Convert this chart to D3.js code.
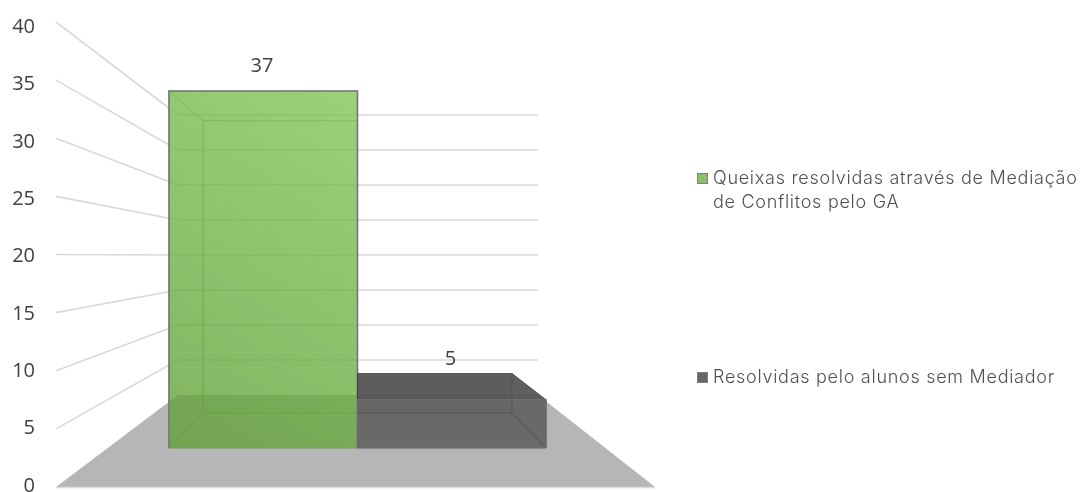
<!DOCTYPE html>
<html><head><meta charset="utf-8">
<script src="https://cdn.jsdelivr.net/npm/d3@7/dist/d3.min.js"></script>
<style>html,body{margin:0;padding:0;background:#fff}svg{display:block}</style>
</head><body><svg id="c" width="1082" height="492"></svg>
<script>
const categories = ["Queixas resolvidas através de Mediação de Conflitos pelo GA", "Resolvidas pelo alunos sem Mediador"];
const legendLines = [["Queixas resolvidas através de Mediação", "de Conflitos pelo GA"], ["Resolvidas pelo alunos sem Mediador"]];
const values = [37, 5];
const tickValues = [0, 5, 10, 15, 20, 25, 30, 35, 40];
const barColors = ["url(#gGreen)", "#555555"];

const svg = d3.select("#c");
const defs = svg.append("defs");
const grad = defs.append("linearGradient").attr("id", "gGreen")
  .attr("gradientUnits", "userSpaceOnUse").attr("x1", 169).attr("y1", 448).attr("x2", 400).attr("y2", 91);
grad.append("stop").attr("offset", 0).attr("stop-color", "#5f9f35");
grad.append("stop").attr("offset", 1).attr("stop-color", "#80c655");
defs.append("filter").attr("id", "soft").attr("x", "-5%").attr("y", "-5%").attr("width", "110%").attr("height", "110%")
  .append("feGaussianBlur").attr("stdDeviation", 0.45);

// perspective planes
const yOuter = d3.scaleLinear().domain([0, 40]).range([487, 22]);
const yWall = d3.scaleLinear().domain([0, 40]).range([395, 115]);
const yFront = d3.scaleLinear().domain([0, 40]).range([448, 62]);
const yBack = d3.scaleLinear().domain([0, 40]).range([413, 97]);
const yLabel = d3.scaleLinear().domain([0, 40]).range([491.5, 33]);
const xFront = d3.scaleBand().domain(categories).range([169, 546]);
const xBack = d3.scaleBand().domain(categories).range([203, 512]);
const outerL = 56, outerR = 655, wallL = 178, wallR = 538;

const marks = svg.append("g").attr("filter", "url(#soft)");
const poly = d3.line();

// floor
marks.append("path")
  .attr("d", poly([[outerL, yOuter(0)], [wallL, yWall(0)], [wallR, yWall(0)], [outerR, yOuter(0)]]) + "Z")
  .attr("fill", "#b6b6b6");
marks.append("line").attr("x1", outerL).attr("x2", outerR).attr("y1", yOuter(0)+0.5).attr("y2", yOuter(0)+0.5)
  .attr("stroke", "#dcdcdc").attr("stroke-width", 1.5);

// gridlines: side wall then back wall
const grid = tickValues.filter(d => d > 0);
marks.selectAll(".side").data(grid).join("line")
  .attr("x1", outerL).attr("y1", d => yOuter(d)).attr("x2", wallL).attr("y2", d => yWall(d))
  .attr("stroke", "#d9d9d9").attr("stroke-width", 1.6);
marks.selectAll(".wall").data(grid).join("line")
  .attr("x1", wallL).attr("x2", wallR).attr("y1", d => yWall(d)).attr("y2", d => yWall(d))
  .attr("stroke", "#d9d9d9").attr("stroke-width", 1.6);

// bars: translucent box faces
categories.forEach((c, i) => {
  const v = values[i], fl = xFront(c), fr = fl + xFront.bandwidth(), bl = xBack(c), br = bl + xBack.bandwidth();
  const yf0 = yFront(0), yf = yFront(v), yb0 = yBack(0), yb = yBack(v);
  const g = marks.append("g");
  const green = i === 0;
  const face = (pts, op, stroke) => g.append("path").attr("d", poly(pts) + "Z")
    .attr("fill", barColors[i]).attr("fill-opacity", op)
    .attr("stroke", stroke || "none").attr("stroke-width", 1).attr("stroke-opacity", 0.45);
  const edge = green ? "#5f9440" : "#3c3c3c";
  face([[bl, yb], [br, yb], [br, yb0], [bl, yb0]], green ? 0 : 0.5, edge);        // back
  face([[fl, yf0], [fr, yf0], [br, yb0], [bl, yb0]], green ? 0 : 0.4, edge);      // bottom
  face([[fl, yf], [bl, yb], [bl, yb0], [fl, yf0]], green ? 0 : 0.4, edge);        // left
  face([[fr, yf], [br, yb], [br, yb0], [fr, yf0]], green ? 0 : 0.4, edge);        // right
  face([[fl, yf], [fr, yf], [br, yb], [bl, yb]], green ? 0 : 0.9, edge);          // top
  face([[fl, yf], [fr, yf], [fr, yf0], [fl, yf0]], green ? 0.78 : 0.65);          // front
  g.append("path").attr("d", poly([[fl, yf0], [fl, yf], [fr, yf], [fr, yf0]]))
    .attr("fill", "none").attr("stroke", green ? "#767676" : "#6e6e6e").attr("stroke-width", 1.6);
  g.append("path").attr("d", poly([[fl, yf0], [fr, yf0]]))
    .attr("fill", "none").attr("stroke", green ? "#7aa35d" : "#777").attr("stroke-width", 1);
});

// text
const text = svg.append("g").attr("filter", "url(#soft)");
const axisFont = "'Open Sans', sans-serif";
text.selectAll(".tick").data(tickValues).join("text")
  .attr("x", 35).attr("y", d => yLabel(d))
  .attr("text-anchor", "end").attr("font-family", axisFont).attr("font-size", 20).attr("fill", "#404040")
  .text(d => d);
text.selectAll(".lab").data(values).join("text")
  .attr("x", (d, i) => xFront(categories[i]) + 93)
  .attr("y", d => yBack(d) - (d > 20 ? 48.7 : 8.5))
  .attr("text-anchor", "middle").attr("font-family", axisFont).attr("font-size", 20).attr("fill", "#404040")
  .text(d => d);

// legend
const legY = [173, 372];
const leg = svg.append("g");
categories.forEach((c, i) => {
  leg.append("rect").attr("x", 697.5).attr("y", legY[i] + 0.5).attr("width", 10).attr("height", 10)
    .attr("fill", i === 0 ? "#8cc168" : "#666").attr("stroke", "#7f7f7f").attr("stroke-width", 1);
  legendLines[i].forEach((t, j) => {
    text.append("text").attr("x", 713).attr("y", legY[i] + 10.5 + j * 24)
      .attr("font-family", "Inter, sans-serif").attr("font-weight", 300).attr("font-size", 18)
      .attr("letter-spacing", 0.72).attr("fill", "#505050").text(t);
  });
});
</script></body></html>
